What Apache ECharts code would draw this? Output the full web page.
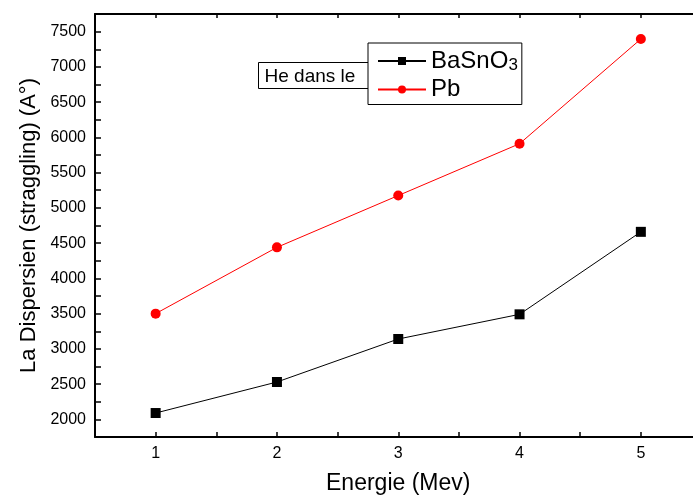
<!DOCTYPE html>
<html>
<head>
<meta charset="utf-8">
<script src="https://cdn.jsdelivr.net/npm/echarts@6/dist/echarts.min.js"></script>
<style>html,body{margin:0;padding:0;background:#fff}#c{width:693px;height:500px}</style>
</head>
<body>
<div id="c"></div>
<script>
var energies = [1, 2, 3, 4, 5];
var basno3 = [2090, 2530, 3140, 3490, 4660];
var pb = [3500, 4440, 5175, 5910, 7395];
var seriesNames = ['BaSnO3', 'Pb'];
var xTitle = 'Energie (Mev)';
var yTitle = 'La Dispersien (straggling) (A°)';
var boxText = 'He dans le';

var F = 'Liberation Sans, Arial, sans-serif';
var chart = echarts.init(document.getElementById('c'), null, {renderer: 'canvas'});
function pairs(v) { return energies.map(function (e, i) { return [e, v[i]]; }); }
var axisLine = {show: true, lineStyle: {color: '#000', width: 2}};
chart.setOption({
  animation: false,
  backgroundColor: '#fff',
  grid: {left: 95, top: 14, width: 606.5, height: 423, containLabel: false, outerBoundsMode: 'none'},
  xAxis: [{
    type: 'value', min: 0.5, max: 5.5, interval: 0.5,
    name: xTitle, nameLocation: 'middle', nameGap: 35,
    nameTextStyle: {fontFamily: F, fontSize: 23, color: '#000'},
    axisLine: axisLine,
    axisTick: {show: true, inside: true, length: 5, lineStyle: {color: '#000', width: 1.5}},
    axisLabel: {fontFamily: F, fontSize: 16, color: '#000', margin: 9,
      formatter: function (v) { return Number.isInteger(v) ? String(v) : ''; }},
    splitLine: {show: false}
  }, {
    type: 'value', position: 'top', min: 0.5, max: 5.5, interval: 0.5,
    axisLine: axisLine,
    axisTick: {show: true, inside: true, length: 4, lineStyle: {color: '#000', width: 1.5}},
    axisLabel: {show: false}, splitLine: {show: false}
  }],
  yAxis: [{
    type: 'value', min: 1750, max: 7750, interval: 250,
    name: yTitle, nameLocation: 'middle', nameGap: 46,
    nameTextStyle: {fontFamily: F, fontSize: 22, color: '#000'},
    axisLine: axisLine,
    axisTick: {show: true, inside: true, length: 6, lineStyle: {color: '#000', width: 1.5}},
    axisLabel: {fontFamily: F, fontSize: 16, color: '#000', margin: 9,
      formatter: function (v) { return v % 500 === 0 ? String(v) : ''; }},
    splitLine: {show: false}
  }, {
    type: 'value', position: 'right', min: 1750, max: 7750, interval: 250,
    axisLine: axisLine,
    axisTick: {show: true, inside: true, length: 6},
    axisLabel: {show: false}, splitLine: {show: false}
  }],
  graphic: [{
    type: 'group', left: 258, top: 62, z: 1,
    children: [
      {type: 'rect', shape: {x: 0, y: 0, width: 112, height: 26},
        style: {fill: '#fff', stroke: '#000', lineWidth: 1}},
      {type: 'text', x: 6, y: 14, style: {text: boxText, fontFamily: F, fontSize: 19,
        fill: '#000', verticalAlign: 'middle'}}
    ]
  }],
  legend: {
    orient: 'vertical', left: 368, top: 43, z: 10,
    backgroundColor: '#fff', borderColor: '#000', borderWidth: 1,
    padding: [6, 4, 3, 9], itemGap: 4, itemWidth: 48, itemHeight: 10,
    data: seriesNames,
    formatter: function (n) { return n === 'BaSnO3' ? '{a|BaSnO}{b|3}' : '{a|' + n + '}'; },
    textStyle: {fontFamily: F, color: '#000', padding: [0, 0, 0, 0],
      rich: {a: {fontFamily: F, fontSize: 24, color: '#000', lineHeight: 25},
             b: {fontFamily: F, fontSize: 17, color: '#000', verticalAlign: 'bottom', lineHeight: 21}}}
  },
  series: [{
    name: seriesNames[0], type: 'line', data: pairs(basno3),
    symbol: 'rect', symbolSize: 10,
    itemStyle: {color: '#000'}, lineStyle: {color: '#000', width: 1}
  }, {
    name: seriesNames[1], type: 'line', data: pairs(pb),
    symbol: 'circle', symbolSize: 10,
    itemStyle: {color: '#ff0000'}, lineStyle: {color: '#ff0000', width: 1}
  }]
});
</script>
</body>
</html>
